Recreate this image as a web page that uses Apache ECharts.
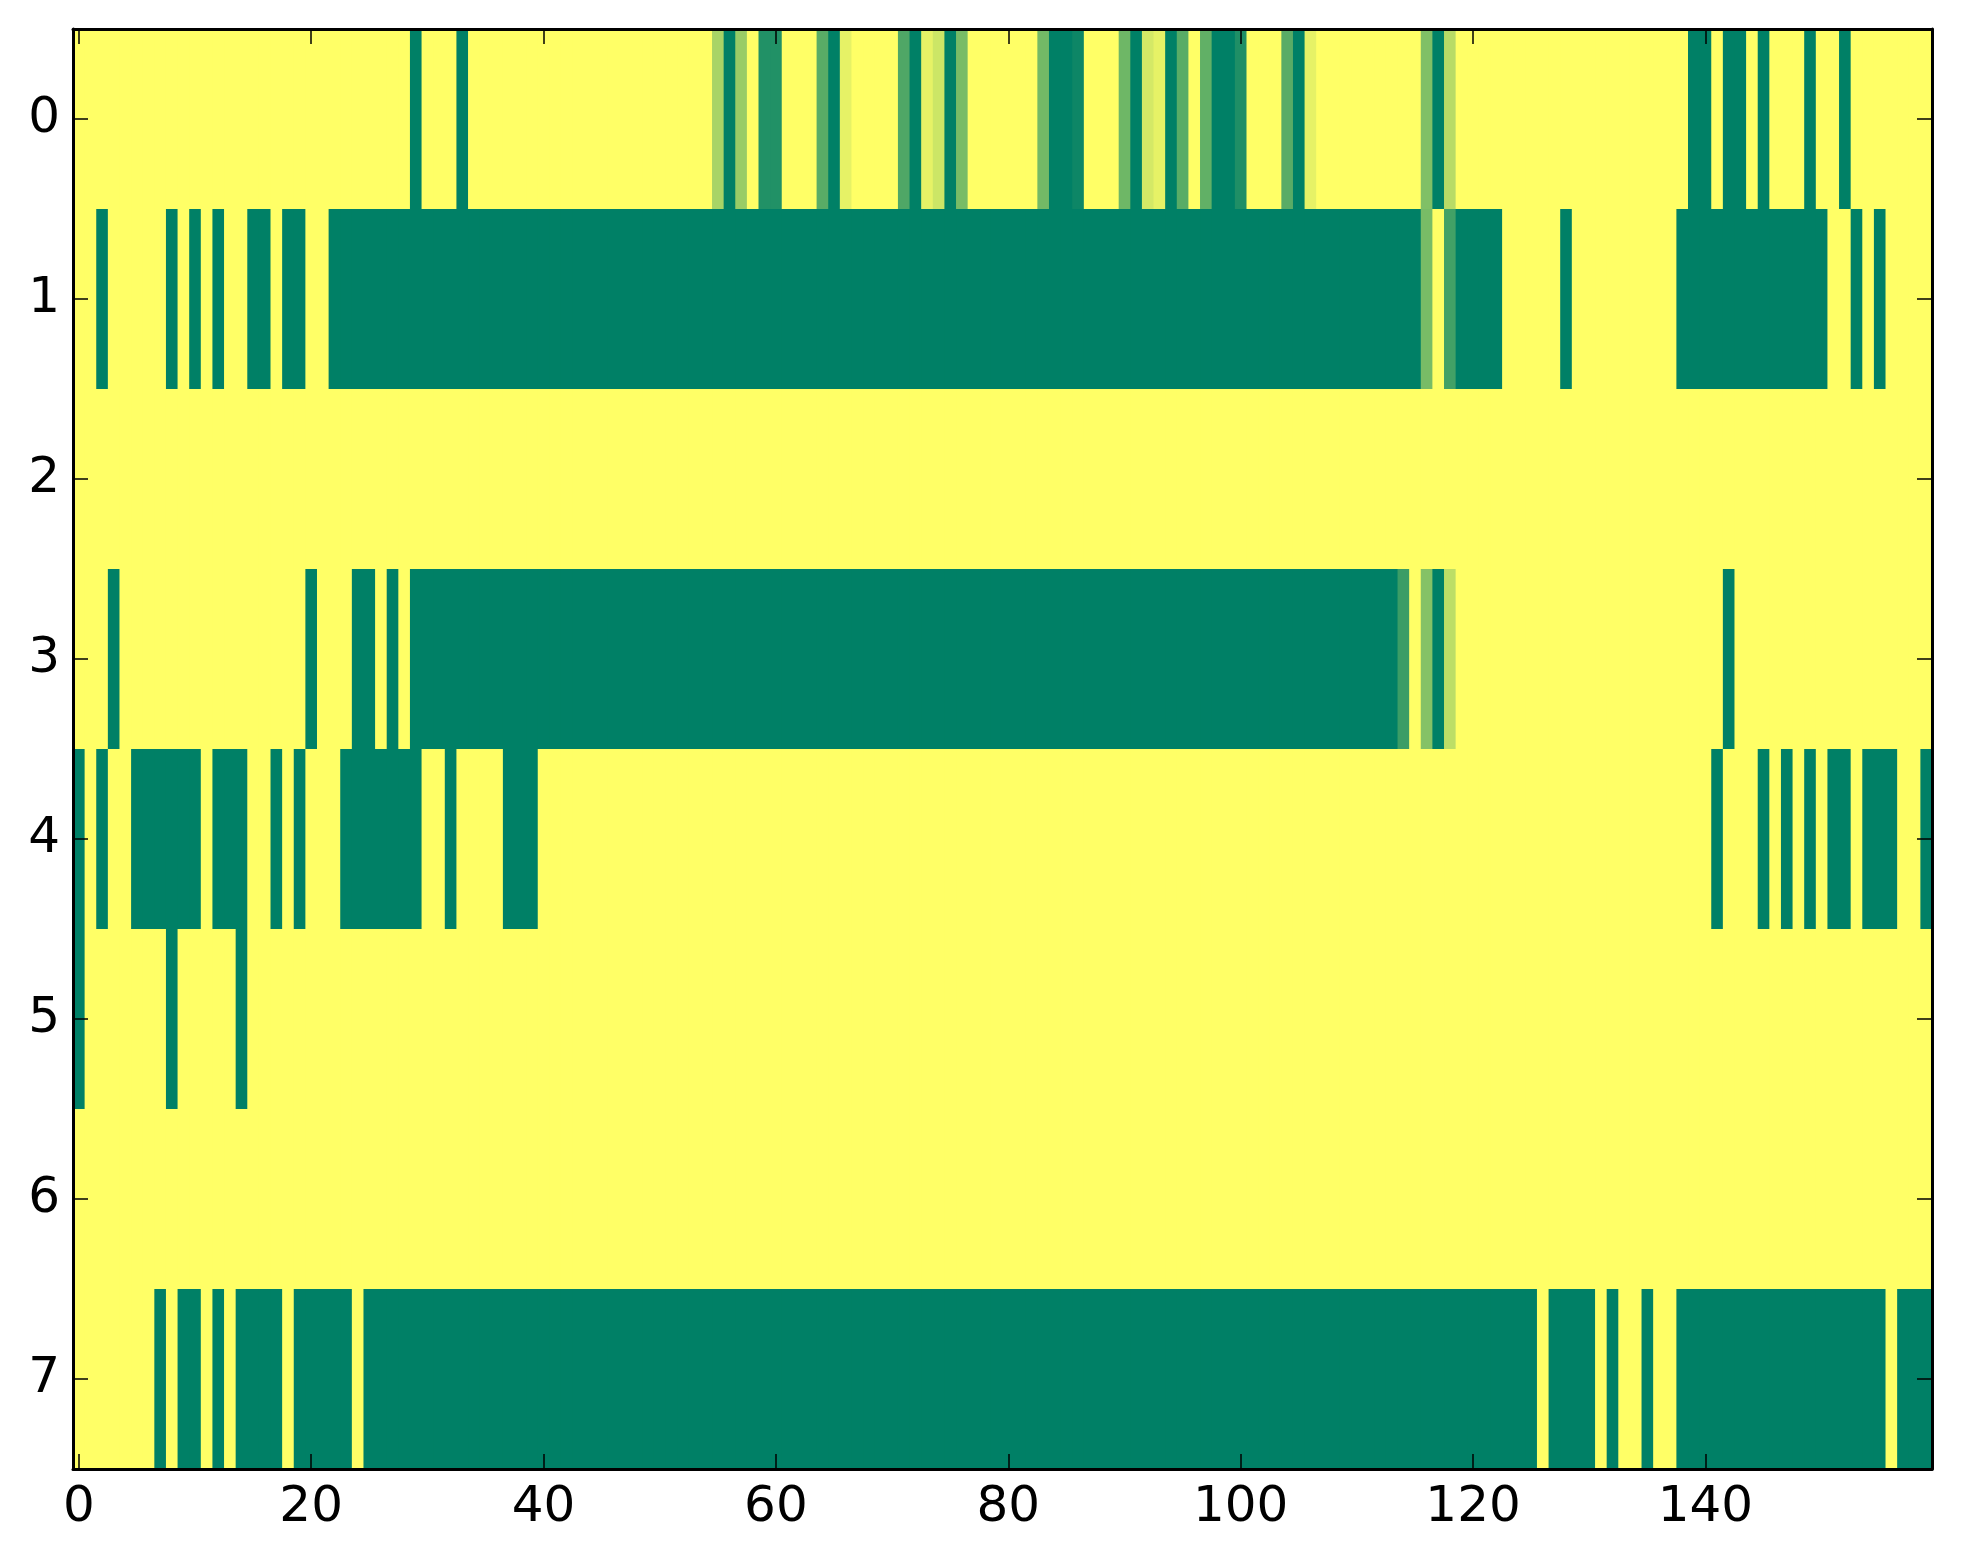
<!DOCTYPE html>
<html>
<head>
<meta charset="utf-8">
<script src="https://cdn.jsdelivr.net/npm/echarts@6/dist/echarts.min.js"></script>
<style>
html,body{margin:0;padding:0;background:#fff;}
#chart{width:1963px;height:1564px;}
</style>
</head>
<body>
<div id="chart"></div>
<script>
// Column categories 0..159 and row categories 0..7
const xCategories = [];
for (let i = 0; i < 160; i++) xCategories.push(String(i));
const yCategories = ['0','1','2','3','4','5','6','7'];
const xTickStep = 20;

// Cell values per row (0 = dark green, 1 = yellow)
const row0 = [
 1,1,1,1,1,1,1,1,1,1,
 1,1,1,1,1,1,1,1,1,1,
 1,1,1,1,1,1,1,1,1,0,
 1,1,1,0,1,1,1,1,1,1,
 1,1,1,1,1,1,1,1,1,1,
 1,1,1,1,1,0.66,0,0.6,1,0.13,
 0.13,1,1,1,0.35,0,0.9,1,1,1,
 1,0.31,0,0.9,0.8,0,0.47,1,1,1,
 1,1,1,0.45,0,0,0.05,1,1,1,
 0.43,0,0.83,0.9,0,0.35,1,0.38,0,0,
 0.12,1,1,1,0.35,0,0.9,1,1,1,
 1,1,1,1,1,1,0.5,0,0.72,1,
 1,1,1,1,1,1,1,1,1,1,
 1,1,1,1,1,1,1,1,1,0,
 0,1,0,0,1,0,1,1,1,0,
 1,1,0,1,1,1,1,1,1,1
];
const row1 = [
 1,1,0,1,1,1,1,1,0,1,
 0,1,0,1,1,0,0,1,0,0,
 1,1,0,0,0,0,0,0,0,0,
 0,0,0,0,0,0,0,0,0,0,
 0,0,0,0,0,0,0,0,0,0,
 0,0,0,0,0,0,0,0,0,0,
 0,0,0,0,0,0,0,0,0,0,
 0,0,0,0,0,0,0,0,0,0,
 0,0,0,0,0,0,0,0,0,0,
 0,0,0,0,0,0,0,0,0,0,
 0,0,0,0,0,0,0,0,0,0,
 0,0,0,0,0,0,0.47,1,0.26,0,
 0,0,0,1,1,1,1,1,0,1,
 1,1,1,1,1,1,1,1,0,0,
 0,0,0,0,0,0,0,0,0,0,
 0,1,1,0,1,0,1,1,1,1
];
const row2 = [
 1,1,1,1,1,1,1,1,1,1, 1,1,1,1,1,1,1,1,1,1,
 1,1,1,1,1,1,1,1,1,1, 1,1,1,1,1,1,1,1,1,1,
 1,1,1,1,1,1,1,1,1,1, 1,1,1,1,1,1,1,1,1,1,
 1,1,1,1,1,1,1,1,1,1, 1,1,1,1,1,1,1,1,1,1,
 1,1,1,1,1,1,1,1,1,1, 1,1,1,1,1,1,1,1,1,1,
 1,1,1,1,1,1,1,1,1,1, 1,1,1,1,1,1,1,1,1,1,
 1,1,1,1,1,1,1,1,1,1, 1,1,1,1,1,1,1,1,1,1,
 1,1,1,1,1,1,1,1,1,1, 1,1,1,1,1,1,1,1,1,1
];
const row3 = [
 1,1,1,0,1,1,1,1,1,1,
 1,1,1,1,1,1,1,1,1,1,
 0,1,1,1,0,0,1,0,1,0,
 0,0,0,0,0,0,0,0,0,0,
 0,0,0,0,0,0,0,0,0,0,
 0,0,0,0,0,0,0,0,0,0,
 0,0,0,0,0,0,0,0,0,0,
 0,0,0,0,0,0,0,0,0,0,
 0,0,0,0,0,0,0,0,0,0,
 0,0,0,0,0,0,0,0,0,0,
 0,0,0,0,0,0,0,0,0,0,
 0,0,0,0,0.23,1,0.52,0,0.74,1,
 1,1,1,1,1,1,1,1,1,1,
 1,1,1,1,1,1,1,1,1,1,
 1,1,0,1,1,1,1,1,1,1,
 1,1,1,1,1,1,1,1,1,1
];
const row4 = [
 0,1,0,1,1,0,0,0,0,0,
 0,1,0,0,0,1,1,0,1,0,
 1,1,1,0,0,0,0,0,0,0,
 1,1,0,1,1,1,1,0,0,0,
 1,1,1,1,1,1,1,1,1,1,
 1,1,1,1,1,1,1,1,1,1,
 1,1,1,1,1,1,1,1,1,1,
 1,1,1,1,1,1,1,1,1,1,
 1,1,1,1,1,1,1,1,1,1,
 1,1,1,1,1,1,1,1,1,1,
 1,1,1,1,1,1,1,1,1,1,
 1,1,1,1,1,1,1,1,1,1,
 1,1,1,1,1,1,1,1,1,1,
 1,1,1,1,1,1,1,1,1,1,
 1,0,1,1,1,0,1,0,1,0,
 1,0,0,1,0,0,0,1,1,0
];
const row5 = [
 0,1,1,1,1,1,1,1,0,1,
 1,1,1,1,0,1,1,1,1,1,
 1,1,1,1,1,1,1,1,1,1, 1,1,1,1,1,1,1,1,1,1,
 1,1,1,1,1,1,1,1,1,1, 1,1,1,1,1,1,1,1,1,1,
 1,1,1,1,1,1,1,1,1,1, 1,1,1,1,1,1,1,1,1,1,
 1,1,1,1,1,1,1,1,1,1, 1,1,1,1,1,1,1,1,1,1,
 1,1,1,1,1,1,1,1,1,1, 1,1,1,1,1,1,1,1,1,1,
 1,1,1,1,1,1,1,1,1,1, 1,1,1,1,1,1,1,1,1,1,
 1,1,1,1,1,1,1,1,1,1, 1,1,1,1,1,1,1,1,1,1
];
const row6 = [
 1,1,1,1,1,1,1,1,1,1, 1,1,1,1,1,1,1,1,1,1,
 1,1,1,1,1,1,1,1,1,1, 1,1,1,1,1,1,1,1,1,1,
 1,1,1,1,1,1,1,1,1,1, 1,1,1,1,1,1,1,1,1,1,
 1,1,1,1,1,1,1,1,1,1, 1,1,1,1,1,1,1,1,1,1,
 1,1,1,1,1,1,1,1,1,1, 1,1,1,1,1,1,1,1,1,1,
 1,1,1,1,1,1,1,1,1,1, 1,1,1,1,1,1,1,1,1,1,
 1,1,1,1,1,1,1,1,1,1, 1,1,1,1,1,1,1,1,1,1,
 1,1,1,1,1,1,1,1,1,1, 1,1,1,1,1,1,1,1,1,1
];
const row7 = [
 1,1,1,1,1,1,1,0,1,0,
 0,1,0,1,0,0,0,0,1,0,
 0,0,0,0,1,0,0,0,0,0,
 0,0,0,0,0,0,0,0,0,0,
 0,0,0,0,0,0,0,0,0,0,
 0,0,0,0,0,0,0,0,0,0,
 0,0,0,0,0,0,0,0,0,0,
 0,0,0,0,0,0,0,0,0,0,
 0,0,0,0,0,0,0,0,0,0,
 0,0,0,0,0,0,0,0,0,0,
 0,0,0,0,0,0,0,0,0,0,
 0,0,0,0,0,0,0,0,0,0,
 0,0,0,0,0,0,1,0,0,0,
 0,1,0,1,1,0,1,1,0,0,
 0,0,0,0,0,0,0,0,0,0,
 0,0,0,0,0,0,1,0,0,0
];

const rows = [row0, row1, row2, row3, row4, row5, row6, row7];
const cells = [];
rows.forEach(function (row, r) {
  row.forEach(function (v, c) { cells.push([c, r, v]); });
});

const fontFamily = '"DejaVu Sans", sans-serif';
const tickEvery = function (i) { return i % xTickStep === 0; };
const axisLine = { show: true, lineStyle: { color: '#000', width: 3 } };
const tickStyle = { color: '#000', width: 1.5 };

function renderCell(params, api) {
  const p = api.coord([api.value(0), api.value(1)]);
  const s = api.size([1, 1]);
  const c = api.value(0);
  const extra = c < xCategories.length - 1 ? 1 : 0;
  return {
    type: 'rect',
    shape: { x: p[0] - s[0] / 2, y: p[1] - s[1] / 2, width: s[0] + extra, height: s[1] },
    style: { fill: api.visual('color') },
    silent: true
  };
}

const chart = echarts.init(document.getElementById('chart'), null, { renderer: 'canvas' });
chart.setOption({
  animation: false,
  backgroundColor: '#ffffff',
  grid: { left: 73, top: 29, width: 1859, height: 1440, containLabel: false },
  xAxis: [
    {
      type: 'category', data: xCategories, position: 'bottom', z: 10,
      axisLine: axisLine,
      axisTick: { show: true, inside: true, length: 15, alignWithLabel: true, interval: tickEvery, lineStyle: tickStyle },
      axisLabel: { show: true, interval: tickEvery, margin: 14, color: '#000', fontSize: 50, fontFamily: fontFamily },
      splitLine: { show: false }
    },
    {
      type: 'category', data: xCategories, position: 'top', z: 10,
      axisLine: axisLine,
      axisTick: { show: true, inside: true, length: 15, alignWithLabel: true, interval: tickEvery, lineStyle: tickStyle },
      axisLabel: { show: false },
      splitLine: { show: false }
    }
  ],
  yAxis: [
    {
      type: 'category', data: yCategories, inverse: true, position: 'left', z: 10,
      axisLine: axisLine,
      axisTick: { show: true, inside: true, length: 15, alignWithLabel: true, lineStyle: tickStyle },
      axisLabel: { show: true, margin: 13, color: '#000', fontSize: 50, fontFamily: fontFamily },
      splitLine: { show: false }
    },
    {
      type: 'category', data: yCategories, inverse: true, position: 'right', z: 10,
      axisLine: axisLine,
      axisTick: { show: true, inside: true, length: 15, alignWithLabel: true, lineStyle: tickStyle },
      axisLabel: { show: false },
      splitLine: { show: false }
    }
  ],
  visualMap: {
    show: false, type: 'continuous', min: 0, max: 1, dimension: 2, seriesIndex: 0,
    inRange: { color: ['#008066', '#ffff66'] }
  },
  series: [{
    type: 'custom',
    xAxisIndex: 0, yAxisIndex: 0,
    renderItem: renderCell,
    encode: { x: 0, y: 1 },
    data: cells,
    progressive: 0,
    z: 1
  }]
});
</script>
</body>
</html>
